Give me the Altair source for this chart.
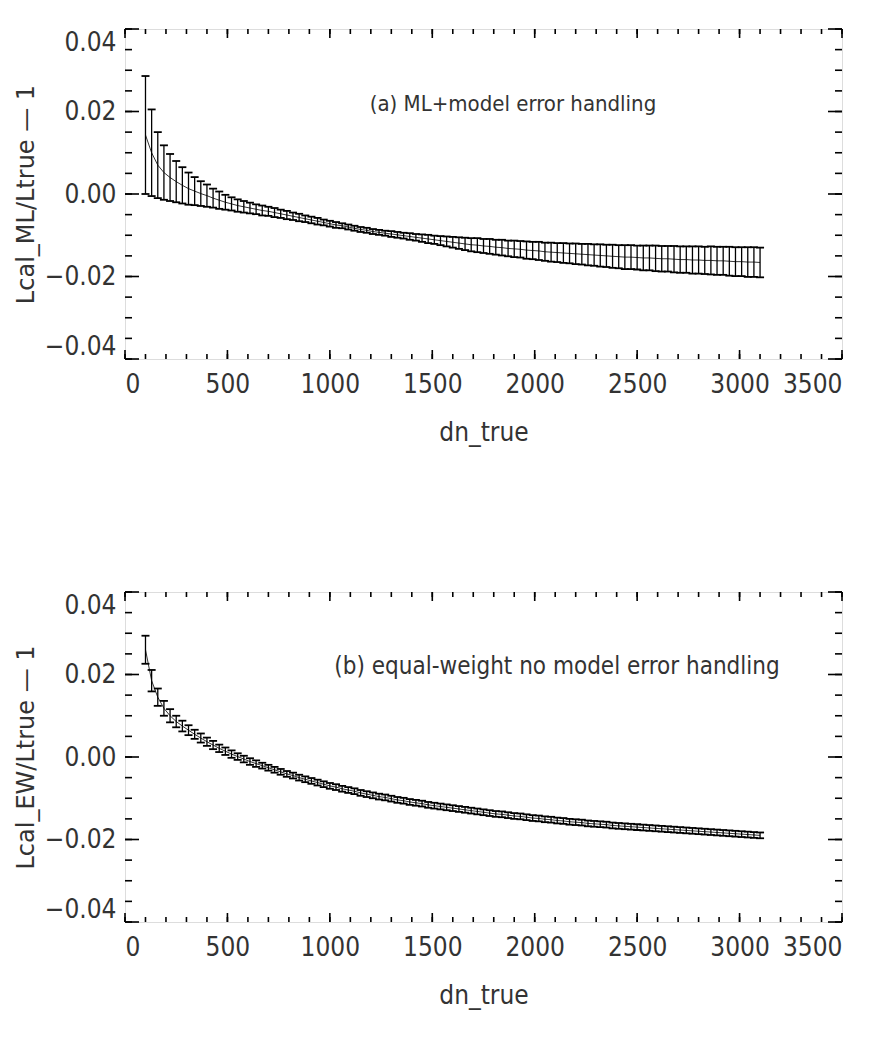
import altair as alt
import pandas as pd

# ---------------- data ----------------
dn_true = list(range(100, 3101, 30))

ml_ratio = [
    .0143, .0100, .0070, .0052, .0040, .0030, .0021, .0013, .0007, .0001,
    -.0004, -.0010, -.0015, -.0020, -.0024, -.0028, -.0031, -.0034, -.0037, -.0040,
    -.0042, -.0045, -.0048, -.0051, -.0054, -.0057, -.0060, -.0063, -.0066, -.0069,
    -.0072, -.0075, -.0077, -.0080, -.0083, -.0086, -.0088, -.0091, -.0093, -.0095,
    -.0097, -.0099, -.0101, -.0103, -.0105, -.0107, -.0109, -.0111, -.0113, -.0115,
    -.0117, -.0119, -.0121, -.0123, -.0124, -.0126, -.0127, -.0129, -.0130, -.0132,
    -.0133, -.0134, -.0136, -.0137, -.0138, -.0140, -.0141, -.0142, -.0143, -.0144,
    -.0145, -.0146, -.0147, -.0148, -.0149, -.0150, -.0151, -.0152, -.0153, -.0153,
    -.0154, -.0155, -.0155, -.0156, -.0157, -.0157, -.0158, -.0159, -.0159, -.0160,
    -.0160, -.0161, -.0161, -.0162, -.0162, -.0163, -.0164, -.0164, -.0165, -.0165,
    -.0166,
]
ml_err = [
    .0143, .0105, .0080, .0066, .0057, .0050, .0044, .0039, .0034, .0030,
    .0027, .0023, .0021, .0018, .0016, .0015, .0014, .0013, .0012, .0012,
    .0011, .0011, .0010, .0010, .0009, .0009, .0008, .0008, .0008, .0007,
    .0007, .0007, .0006, .0006, .0006, .0006, .0006, .0006, .0006, .0006,
    .0007, .0007, .0007, .0008, .0008, .0009, .0010, .0010, .0011, .0012,
    .0013, .0014, .0015, .0016, .0017, .0017, .0018, .0018, .0019, .0019,
    .0020, .0020, .0021, .0021, .0022, .0022, .0023, .0023, .0024, .0024,
    .0025, .0025, .0026, .0026, .0027, .0027, .0028, .0028, .0029, .0029,
    .0029, .0030, .0030, .0031, .0031, .0031, .0032, .0032, .0032, .0033,
    .0033, .0033, .0034, .0034, .0034, .0035, .0035, .0035, .0036, .0036,
    .0036,
]
ew_ratio = [
    .0260, .0185, .0145, .0118, .0100, .0086, .0075, .0065, .0055, .0046,
    .0037, .0029, .0021, .0014, .0007, .0001, -.0005, -.0011, -.0016, -.0021,
    -.0026, -.0031, -.0036, -.0041, -.0045, -.0050, -.0054, -.0058, -.0062, -.0066,
    -.0070, -.0073, -.0077, -.0080, -.0083, -.0087, -.0090, -.0093, -.0096, -.0098,
    -.0101, -.0104, -.0106, -.0109, -.0111, -.0113, -.0116, -.0118, -.0120, -.0122,
    -.0124, -.0126, -.0128, -.0130, -.0132, -.0134, -.0136, -.0138, -.0139, -.0141,
    -.0143, -.0144, -.0146, -.0148, -.0149, -.0151, -.0152, -.0154, -.0155, -.0157,
    -.0158, -.0159, -.0161, -.0162, -.0163, -.0164, -.0166, -.0167, -.0168, -.0169,
    -.0170, -.0171, -.0172, -.0173, -.0174, -.0175, -.0176, -.0177, -.0178, -.0179,
    -.0180, -.0181, -.0182, -.0183, -.0184, -.0185, -.0186, -.0187, -.0188, -.0189,
    -.0190,
]
ew_err = [
    .0034, .0026, .0021, .0018, .0016, .0014, .0013, .0012, .0011, .0011,
    .0010, .0010, .0009, .0009, .0009, .0008, .0008, .0008, .0008, .0007,
    .0007, .0007, .0007, .0007, .0007, .0007, .0007, .0007, .0007, .0007,
    .0007, .0007, .0007, .0007, .0007, .0007, .0007, .0007, .0007, .0007,
    .0007, .0007, .0007, .0007, .0007, .0007, .0007, .0007, .0007, .0007,
    .0007, .0007, .0007, .0007, .0007, .0007, .0007, .0007, .0007, .0007,
    .0007, .0007, .0007, .0007, .0007, .0007, .0007, .0007, .0007, .0007,
    .0007, .0007, .0007, .0007, .0007, .0007, .0007, .0007, .0007, .0007,
    .0007, .0007, .0007, .0007, .0007, .0007, .0007, .0007, .0007, .0007,
    .0007, .0007, .0007, .0007, .0007, .0007, .0007, .0007, .0007, .0007,
    .0007,
]

x_labels = [0, 500, 1000, 1500, 2000, 2500, 3000, 3500]
y_labels = [-0.04, -0.02, 0.0, 0.02, 0.04]
x_minor = list(range(0, 3501, 100))
y_minor = [-0.04, -0.035, -0.03, -0.025, -0.02, -0.015, -0.01, -0.005, 0.0,
           0.005, 0.01, 0.015, 0.02, 0.025, 0.03, 0.035, 0.04]

titles_y = ["Lcal_ML/Ltrue — 1", "Lcal_EW/Ltrue — 1"]
notes = ["(a) ML+model error handling", "(b) equal-weight no model error handling"]
note_x = [1894, 2109]
note_y = [0.0218, 0.0218]

W, H = 717, 330
NARROW = "Liberation Sans Narrow, DejaVu Sans Condensed, Roboto Condensed, sans-serif"
INK = "#000000"
TXT = "#333333"


def panel(vals, errs, ytitle, note, nx, ny, note_size):
    df = pd.DataFrame({
        "dn": dn_true,
        "r": vals,
        "lo": [v - e for v, e in zip(vals, errs)],
        "hi": [v + e for v, e in zip(vals, errs)],
    })
    xs = alt.Scale(domain=[0, 3500], nice=False, zero=False)
    ys = alt.Scale(domain=[-0.04, 0.04], nice=False, zero=False)
    xax = alt.Axis(values=x_labels, format="d", title="dn_true", ticks=False,
                   domain=False, grid=False, labelPadding=12, titlePadding=22,
                   labelFont=NARROW, labelFontSize=26, labelColor=TXT,
                   titleFont=NARROW, titleFontSize=26, titleColor=TXT,
                   titleFontWeight="normal")
    yax = alt.Axis(values=y_labels, format=".2f", title=ytitle, ticks=False,
                   domain=False, grid=False, labelPadding=9, titlePadding=6,
                   labelFlush=True,
                   labelFont=NARROW, labelFontSize=26, labelColor=TXT,
                   titleFont="DejaVu Sans", titleFontSize=24, titleColor=TXT,
                   titleFontWeight="normal")
    base = alt.Chart(df)
    line = base.mark_line(color=INK, strokeWidth=0.8).encode(
        x=alt.X("dn:Q", scale=xs, axis=xax),
        y=alt.Y("r:Q", scale=ys, axis=yax),
    )
    bars = base.mark_rule(color=INK, strokeWidth=1.3).encode(
        x="dn:Q", y="lo:Q", y2="hi:Q")
    cap_hi = base.mark_tick(orient="horizontal", size=8, thickness=1.8,
                            color=INK, opacity=1).encode(x="dn:Q", y="hi:Q")
    cap_lo = base.mark_tick(orient="horizontal", size=8, thickness=1.8,
                            color=INK, opacity=1).encode(x="dn:Q", y="lo:Q")

    xminor = alt.Chart(pd.DataFrame({"dn": x_minor}))
    xmajor = alt.Chart(pd.DataFrame({"dn": x_labels}))
    yminor = alt.Chart(pd.DataFrame({"r": y_minor}))
    ymajor = alt.Chart(pd.DataFrame({"r": y_labels}))
    tk = dict(color=INK, strokeWidth=1.6)
    ticks = [
        xminor.mark_rule(**tk).encode(x="dn:Q", y=alt.value(H), y2=alt.value(H - 5)),
        xmajor.mark_rule(**tk).encode(x="dn:Q", y=alt.value(H), y2=alt.value(H - 9)),
        xminor.mark_rule(**tk).encode(x="dn:Q", y=alt.value(0), y2=alt.value(5)),
        xmajor.mark_rule(**tk).encode(x="dn:Q", y=alt.value(0), y2=alt.value(9)),
        yminor.mark_rule(**tk).encode(y="r:Q", x=alt.value(0), x2=alt.value(7)),
        ymajor.mark_rule(**tk).encode(y="r:Q", x=alt.value(0), x2=alt.value(14)),
        yminor.mark_rule(**tk).encode(y="r:Q", x=alt.value(W), x2=alt.value(W - 7)),
        ymajor.mark_rule(**tk).encode(y="r:Q", x=alt.value(W), x2=alt.value(W - 14)),
    ]
    text = alt.Chart(pd.DataFrame({"t": [note]})).mark_text(
        font=NARROW, fontSize=note_size, color=TXT, align="center", baseline="middle"
    ).encode(x=alt.X(datum=nx), y=alt.Y(datum=ny), text="t:N")

    return alt.layer(line, bars, cap_hi, cap_lo, *ticks, text).properties(
        width=W, height=H)


pa = panel(ml_ratio, ml_err, titles_y[0], notes[0], note_x[0], note_y[0], 22)
pb = panel(ew_ratio, ew_err, titles_y[1], notes[1], note_x[1], note_y[1], 24)

chart = alt.vconcat(pa, pb, spacing=144).properties(
    padding={"left": 5, "top": 19, "right": 5, "bottom": 5}
).configure_view(stroke=INK, strokeWidth=2).configure(background="white")

chart.save("out.html", embed_options={"renderer": "svg", "actions": False})
